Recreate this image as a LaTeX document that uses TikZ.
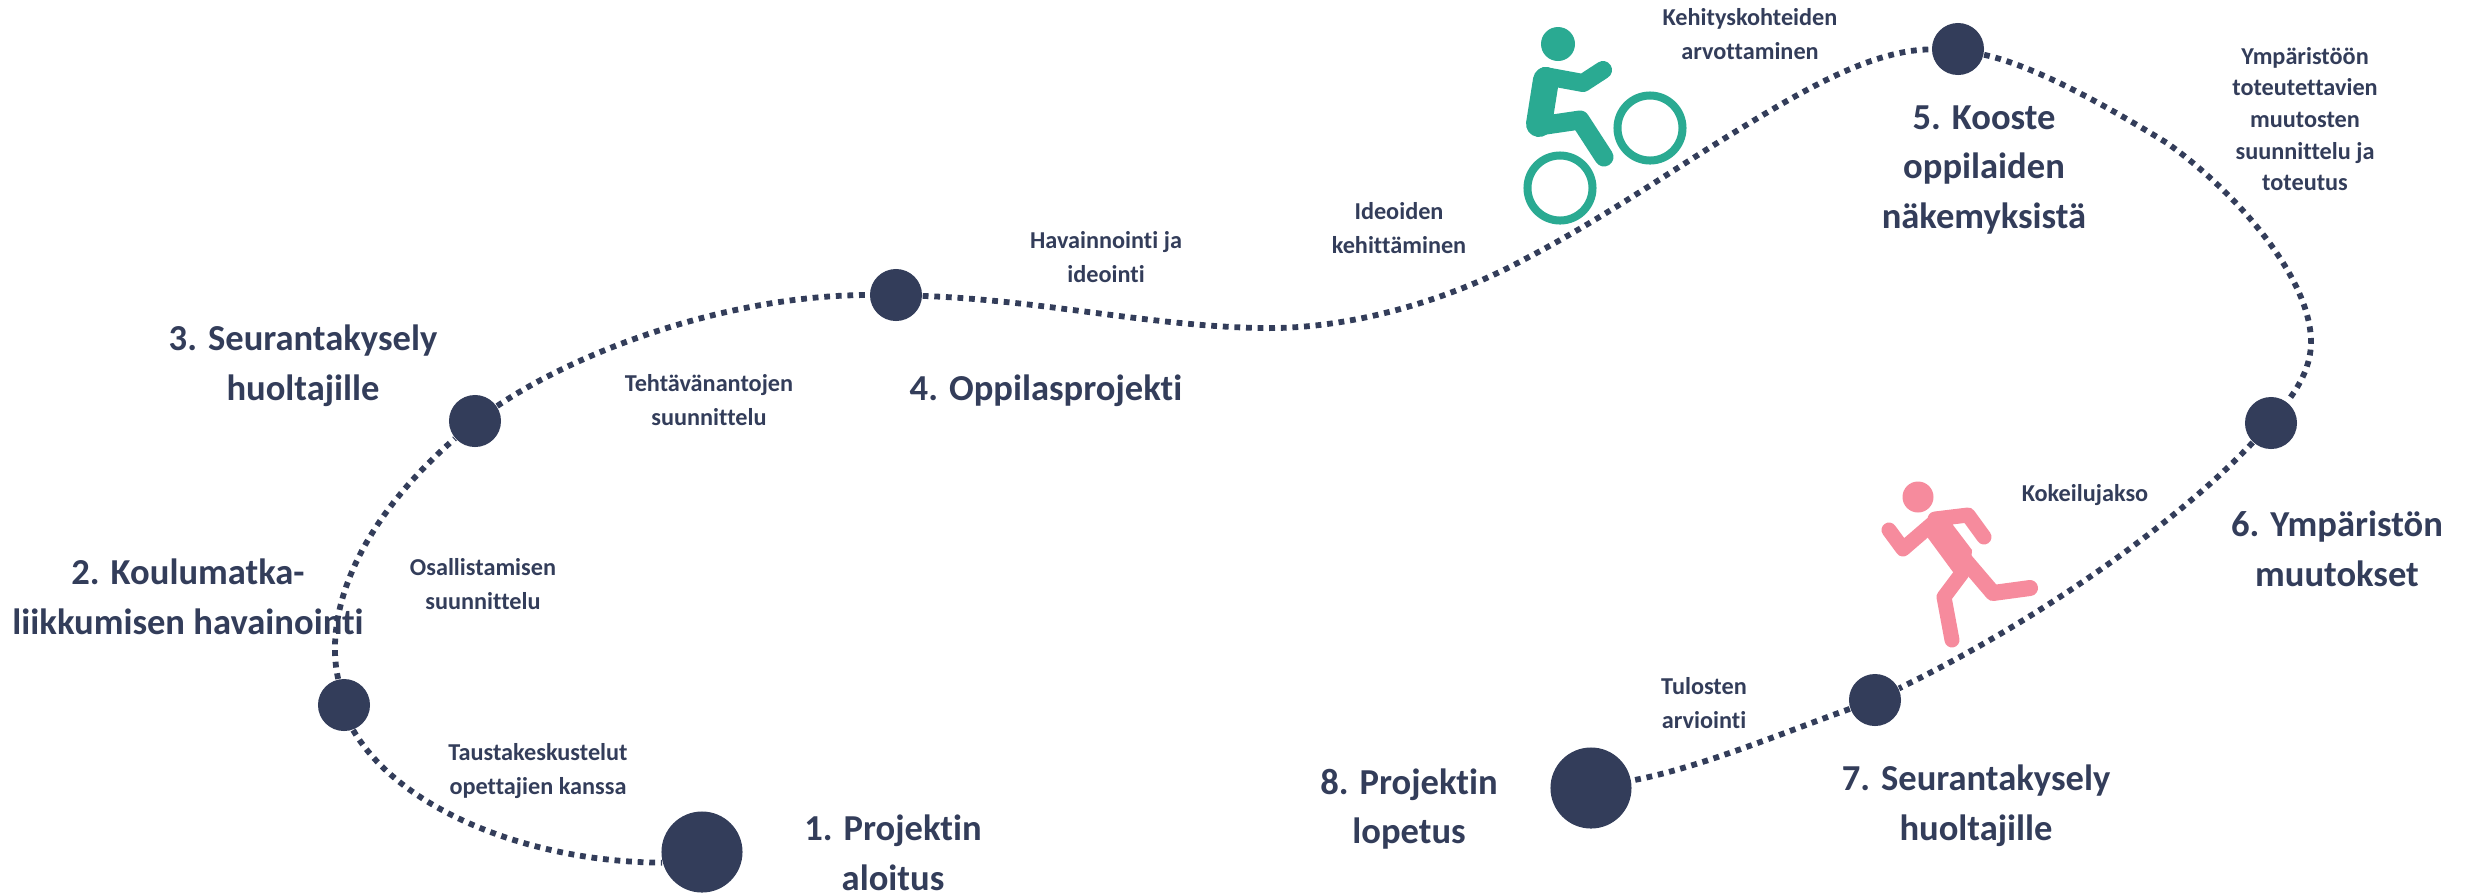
\documentclass[tikz,border=0pt]{standalone}
\usepackage{fontspec}
\setmainfont[Ligatures=NoCommon]{Carlito}
\definecolor{navy}{HTML}{333D5A}
\definecolor{teal2}{HTML}{2AAA92}
\definecolor{pink2}{HTML}{F68B9D}
\tikzset{
	bigdot/.style={circle, fill=navy, inner sep=0pt, minimum size=0.81cm},
	smalldot/.style={circle, fill=navy, inner sep=0pt, minimum size=0.52cm},
	trail/.style={navy, line width=0.058cm, dash pattern=on 0.058cm off 0.058cm},
	title/.style={text=navy, align=center, inner sep=0pt, font=\bfseries\fontsize{10.4}{14.2}\selectfont},
	note/.style={text=navy, align=center, inner sep=0pt, font=\bfseries\fontsize{6.9}{9.9}\selectfont},
}
\begin{document}
\begin{tikzpicture}[x=0.01cm, y=-0.01cm]
	\useasboundingbox (0,0) rectangle (2474,893);
	\node (start) [bigdot] at (702,852) {};
	\node (walk) [smalldot] at (344,705) {};
	\node (surveya) [smalldot] at (475,421) {};
	\node (project) [smalldot] at (896,295) {};
	\node (summary) [smalldot] at (1958,49) {};
	\node (change) [smalldot] at (2271,423) {};
	\node (surveyb) [smalldot] at (1875,700) {};
	\node (finish) [bigdot] at (1591,788) {};
	
	\draw[trail] (walk.-70) .. controls (400,810) and (530,862) .. (start.195);
	\draw[trail] (walk) .. controls (325,620) and (350,530) .. (surveya);
	\draw[trail] (surveya) .. controls (580,350) and (730,295) .. (project);
	\draw[trail] (project) .. controls (1040,300) and (1150,326) .. (1260,328) .. controls (1350,330) and (1450,300) .. (1527,258) .. controls (1600,220) and (1665,175) .. (1730,135) .. controls (1800,92) and (1870,50) .. (summary);
	\draw[trail] (summary) .. controls (2035,66) and (2105,105) .. (2167,143) .. controls (2240,195) and (2311,280) .. (2311,342) .. controls (2311,365) and (2300,385) .. (change);
	\draw[trail] (change) .. controls (2180,520) and (2040,620) .. (surveyb);
	\draw[trail] (surveyb) .. controls (1790,730) and (1700,768) .. (finish);
	
	\node (tstart) [title] at (893,853) {1. Projektin\\aloitus};
	\node (twalk) [title] at (188,597) {2. Koulumatka-\\liikkumisen havainointi};
	\node (tsurveya) [title] at (303,366) {3. Seurantakysely\\huoltajille};
	\node (tproject) [title] at (1046,391) {4. Oppilasprojekti};
	\node (tsummary) [title] at (1984,170) {5. Kooste\\oppilaiden\\näkemyksistä};
	\node (tchange) [title] at (2337,549) {6. Ympäristön\\muutokset};
	\node (tsurveyb) [title] at (1976,806) {7. Seurantakysely\\huoltajille};
	\node (tfinish) [title] at (1409,809) {8. Projektin\\lopetus};
	
	\node (nbackground) [note] at (538,771) {Taustakeskustelut\\opettajien kanssa};
	\node (ninclude) [note] at (483,584) {Osallistamisen\\suunnittelu};
	\node (ntasks) [note] at (709,400) {Tehtävänantojen\\suunnittelu};
	\node (nobserve) [note] at (1106,257) {Havainnointi ja\\ideointi};
	\node (nideas) [note] at (1399,228) {Ideoiden\\kehittäminen};
	\node (nvalue) [note] at (1750,34) {Kehityskohteiden\\arvottaminen};
	\node (nplan) [note, font=\bfseries\fontsize{6.9}{9}\selectfont] at (2305,119) {Ympäristöön\\toteutettavien\\muutosten\\suunnittelu ja\\toteutus};
	\node (ntrial) [note] at (2085,495) {Kokeilujakso};
	\node (nresults) [note] at (1704,703) {Tulosten\\arviointi};
	
	% cyclist
	\fill[teal2] (1558,44) circle (0.17cm);
	\draw[teal2, line width=0.08cm] (1650,128) circle (0.325cm);
	\draw[teal2, line width=0.08cm] (1560,188) circle (0.325cm);
	\draw[teal2, line width=0.18cm, line cap=round, line join=round] (1603,70) -- (1583,83) -- (1545,76);
	\draw[teal2, line width=0.26cm, line cap=round, line join=round] (1546,80) -- (1539,124);
	\draw[teal2, line width=0.19cm, line cap=round, line join=round] (1539,126) -- (1580,120) -- (1604,157);
	
	% runner
	\fill[pink2] (1918,497) circle (0.155cm);
	\draw[pink2, line width=0.15cm, line cap=round, line join=round] (1889,530) -- (1903,549) -- (1932,524);
	\draw[pink2, line width=0.15cm, line cap=round, line join=round] (1935,519) -- (1968,515) -- (1984,537);
	\fill[pink2] (1933,513) -- (1950,512) -- (1953,525) -- (1972,550) -- (1970,575) -- (1953,572) -- (1928,538) -- cycle;
	\draw[pink2, line width=0.16cm, line cap=round, line join=round] (1958,552) -- (1993,593) -- (2030,588);
	\draw[pink2, line width=0.15cm, line cap=round, line join=round] (1962,573) -- (1944,597) -- (1952,640);
\end{tikzpicture}
\end{document}
